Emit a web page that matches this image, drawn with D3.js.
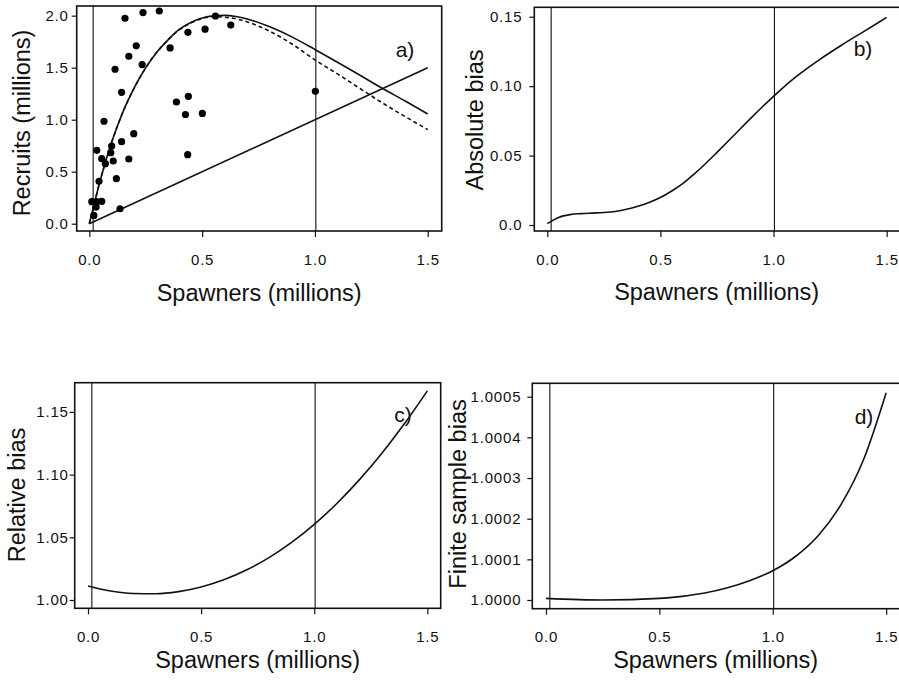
<html>
<head>
<meta charset="utf-8">
<script src="https://d3js.org/d3.v7.min.js"></script>
<style>
  body { margin: 0; background: #fff; }
  svg { display: block; font-family: "Liberation Sans", Arial, sans-serif; }
</style>
</head>
<body>
<svg id="fig" width="899" height="683"></svg>
<script>
// ---- data ----
// panel a: observed stock-recruit pairs (millions)
const obsSpawners = [0.158, 0.238, 0.31, 0.559, 0.627, 0.513, 0.437, 0.358, 0.208, 0.175, 0.234, 0.114, 0.143,
  0.386, 0.439, 0.426, 0.501, 0.436, 0.065, 0.197, 0.143, 0.099, 0.095, 0.106, 0.175, 0.055, 0.071, 0.033,
  0.12, 0.043, 0.011, 0.033, 0.055, 0.03, 0.02, 0.136, 1.002];
const obsRecruits = [1.975, 2.03, 2.045, 1.997, 1.91, 1.87, 1.84, 1.69, 1.71, 1.61, 1.53, 1.485, 1.263,
  1.17, 1.225, 1.05, 1.06, 0.664, 0.985, 0.866, 0.789, 0.747, 0.683, 0.603, 0.622, 0.625, 0.577, 0.706,
  0.433, 0.408, 0.212, 0.212, 0.215, 0.16, 0.08, 0.144, 1.273];

// panel a: fitted curves
const fitS = [0, 0.025, 0.05, 0.1, 0.15, 0.2, 0.25, 0.3, 0.35, 0.4, 0.45, 0.5, 0.55, 0.6, 0.65, 0.7, 0.8, 0.9, 1.0, 1.1, 1.2, 1.3, 1.4, 1.5];
const fitSolid = [0, 0.22, 0.43, 0.79, 1.08, 1.31, 1.50, 1.65, 1.77, 1.87, 1.935, 1.977, 1.998, 2.003, 1.992, 1.968, 1.893, 1.794, 1.675, 1.552, 1.427, 1.30, 1.18, 1.055];
const fitDashed = [0, 0.22, 0.43, 0.79, 1.08, 1.31, 1.50, 1.65, 1.77, 1.865, 1.93, 1.972, 1.99, 1.985, 1.97, 1.94, 1.85, 1.725, 1.575, 1.44, 1.30, 1.16, 1.03, 0.905];
const replS = [0, 1.5];
const replR = [0, 1.5];

// panel b: absolute bias
const absS = [0, 0.05, 0.1, 0.15, 0.2, 0.25, 0.3, 0.35, 0.4, 0.45, 0.5, 0.55, 0.6, 0.65, 0.7, 0.75, 0.8, 0.85, 0.9, 0.95, 1.0, 1.05, 1.1, 1.15, 1.2, 1.3, 1.4, 1.5];
const absBias = [0.001, 0.0055, 0.0075, 0.0082, 0.0086, 0.009, 0.0098, 0.0113, 0.0135, 0.0163, 0.0198, 0.0245, 0.030, 0.0368, 0.0443, 0.0523, 0.0605, 0.0688, 0.077, 0.085, 0.0927, 0.100, 0.1068, 0.113, 0.1188, 0.1295, 0.1395, 0.1495];

// panel c: relative bias
const relS = [0, 0.1, 0.2, 0.3, 0.4, 0.5, 0.6, 0.7, 0.8, 0.9, 1.0, 1.1, 1.2, 1.3, 1.4, 1.5];
const relBias = [1.0112, 1.0072, 1.0052, 1.005, 1.0067, 1.0104, 1.0161, 1.0239, 1.0338, 1.0459, 1.0603, 1.077, 1.096, 1.1173, 1.1409, 1.1668];

// panel d: finite sample bias
const finS = [0, 0.25, 0.5, 0.6, 0.7, 0.8, 0.9, 1.0, 1.1, 1.2, 1.3, 1.4, 1.5];
const finBias = [1.000004, 1.0, 1.000004, 1.000009, 1.000017, 1.00003, 1.000048, 1.000072, 1.000107, 1.000158, 1.000234, 1.000345, 1.00051];

// reference lines and ticks
const refLines = [0.017, 1.004];
const xTicks = [0, 0.5, 1.0, 1.5];
const xTickLabels = ["0.0", "0.5", "1.0", "1.5"];
const yTicksA = [0, 0.5, 1.0, 1.5, 2.0];
const yLabelsA = ["0.0", "0.5", "1.0", "1.5", "2.0"];
const yTicksB = [0, 0.05, 0.10, 0.15];
const yLabelsB = ["0.0", "0.05", "0.10", "0.15"];
const yTicksC = [1.0, 1.05, 1.10, 1.15];
const yLabelsC = ["1.00", "1.05", "1.10", "1.15"];
const yTicksD = [1.0, 1.0001, 1.0002, 1.0003, 1.0004, 1.0005];
const yLabelsD = ["1.0000", "1.0001", "1.0002", "1.0003", "1.0004", "1.0005"];

const svg = d3.select("#fig");

function drawPanel(p) {
  const g = svg.append("g");
  const x = d3.scaleLinear().domain(p.xDomain).range([p.left, p.right]);
  const y = d3.scaleLinear().domain(p.yDomain).range([p.bottom, p.top]);

  const clipId = "clip" + p.tag;
  svg.append("clipPath").attr("id", clipId)
    .append("rect").attr("x", p.left).attr("y", p.top)
    .attr("width", p.right - p.left).attr("height", p.bottom - p.top);

  const inner = g.append("g").attr("clip-path", "url(#" + clipId + ")");

  inner.selectAll(".ref").data(refLines).enter().append("line")
    .attr("x1", d => x(d)).attr("x2", d => x(d))
    .attr("y1", p.top).attr("y2", p.bottom)
    .attr("stroke", "#111").attr("stroke-width", 1.1);

  const line = d3.line().x(d => x(d[0])).y(d => y(d[1])).curve(d3.curveMonotoneX);
  p.series.forEach(s => {
    inner.append("path")
      .datum(s.xs.map((v, i) => [v, s.ys[i]]))
      .attr("d", s.straight ? d3.line().x(d => x(d[0])).y(d => y(d[1])) : line)
      .attr("fill", "none").attr("stroke", "#111")
      .attr("stroke-width", 1.6)
      .attr("stroke-dasharray", s.dash || null);
  });

  if (p.points) {
    inner.selectAll(".pt").data(p.points.xs).enter().append("circle")
      .attr("cx", d => x(d)).attr("cy", (d, i) => y(p.points.ys[i]))
      .attr("r", 3.6).attr("fill", "#000");
  }

  g.append("rect")
    .attr("x", p.left).attr("y", p.top)
    .attr("width", p.right - p.left).attr("height", p.bottom - p.top)
    .attr("fill", "none").attr("stroke", "#111").attr("stroke-width", 1.6);

  const xAxis = g.append("g")
    .attr("transform", "translate(0," + p.bottom + ")")
    .call(d3.axisBottom(x).tickValues(xTicks).tickSize(6).tickPadding(17)
      .tickFormat((d, i) => xTickLabels[i]));
  const yAxis = g.append("g")
    .attr("transform", "translate(" + p.left + ",0)")
    .call(d3.axisLeft(y).tickValues(p.yTicks).tickSize(5).tickPadding(p.yPad)
      .tickFormat((d, i) => p.yLabels[i]));
  [xAxis, yAxis].forEach(a => {
    a.select(".domain").remove();
    a.selectAll("line").attr("stroke", "#111").attr("stroke-width", 1.2);
    a.selectAll("text").attr("font-size", 15).attr("letter-spacing", "0.8px")
      .attr("fill", "#111").style("font-family", "'Liberation Sans', Arial, sans-serif");
  });

  g.append("text")
    .attr("x", (p.left + Math.min(p.right, 899)) / 2).attr("y", p.xTitleY)
    .attr("text-anchor", "middle").attr("font-size", 23.5).attr("fill", "#111")
    .text("Spawners (millions)");
  g.append("text")
    .attr("transform", "translate(" + p.yTitleX + "," + p.yTitleCY + ") rotate(-90)")
    .attr("text-anchor", "middle").attr("dy", "0.36em")
    .attr("font-size", 23.5).attr("fill", "#111")
    .text(p.yTitle);
  g.append("text")
    .attr("x", p.tagX).attr("y", p.tagY)
    .attr("text-anchor", "middle").attr("font-size", 21).attr("fill", "#111")
    .text(p.tag + ")");
}

drawPanel({
  tag: "a", left: 76.7, right: 441.7, top: 6, bottom: 231,
  xDomain: [-0.056, 1.562], yDomain: [-0.070, 2.093],
  yTicks: yTicksA, yLabels: yLabelsA, yPad: 3,
  series: [
    { xs: fitS, ys: fitSolid },
    { xs: fitS, ys: fitDashed, dash: "4,3" },
    { xs: replS, ys: replR, straight: true }
  ],
  points: { xs: obsSpawners, ys: obsRecruits },
  yTitle: "Recruits (millions)", yTitleX: 22, yTitleCY: 123, xTitleY: 301,
  tagX: 405, tagY: 57
});

drawPanel({
  tag: "b", left: 534.3, right: 900, top: 7.3, bottom: 231,
  xDomain: [-0.0575, 1.559], yDomain: [-0.0043, 0.1568],
  yTicks: yTicksB, yLabels: yLabelsB, yPad: 7,
  series: [{ xs: absS, ys: absBias }],
  yTitle: "Absolute bias", yTitleX: 475, yTitleCY: 120, xTitleY: 300,
  tagX: 863, tagY: 56
});

drawPanel({
  tag: "c", left: 74.7, right: 440.7, top: 382.7, bottom: 608.3,
  xDomain: [-0.0588, 1.559], yDomain: [0.99338, 1.1733],
  yTicks: yTicksC, yLabels: yLabelsC, yPad: 1,
  series: [{ xs: relS, ys: relBias }],
  yTitle: "Relative bias", yTitleX: 17, yTitleCY: 495, xTitleY: 668,
  tagX: 403, tagY: 422
});

drawPanel({
  tag: "d", left: 532.3, right: 900, top: 383.3, bottom: 608.7,
  xDomain: [-0.0604, 1.561], yDomain: [0.9999786, 1.000533],
  yTicks: yTicksD, yLabels: yLabelsD, yPad: 6,
  series: [{ xs: finS, ys: finBias }],
  yTitle: "Finite sample bias", yTitleX: 458, yTitleCY: 494, xTitleY: 668,
  tagX: 864, tagY: 424
});
</script>
</body>
</html>
